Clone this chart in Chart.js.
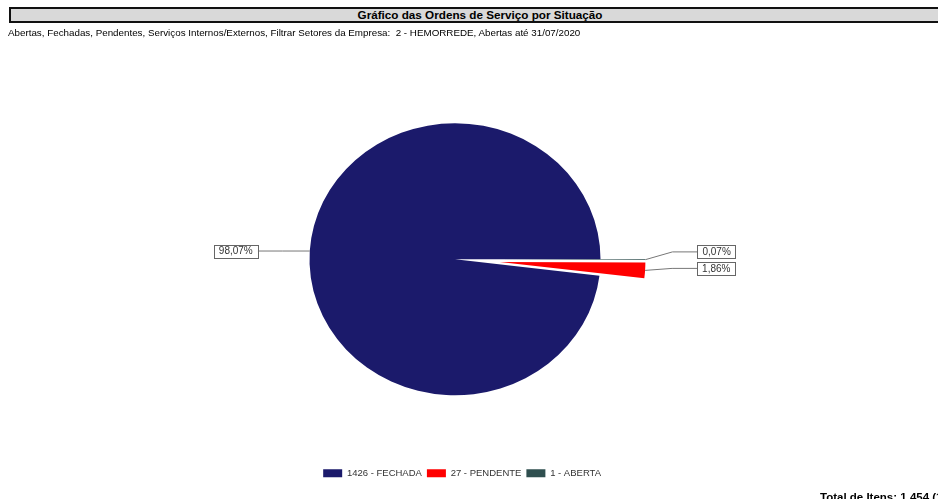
<!DOCTYPE html>
<html>
<head>
<meta charset="utf-8">
<script src="https://cdn.jsdelivr.net/npm/chart.js@4.4.0/dist/chart.umd.min.js"></script>
<style>
body { margin: 0; background: #fff; font-family: Arial, "Liberation Sans", sans-serif; overflow: hidden; }
#wrap { position: relative; width: 938px; height: 499px; overflow: hidden; }
#titleBar { position: absolute; left: 9px; top: 7px; width: 938px; height: 12px; border: 2px solid #111; background: #d9d9d9;
  font-weight: bold; font-size: 11.7px; line-height: 12px; text-align: center; color: #000; }
#sub { position: absolute; left: 8px; top: 27px; font-size: 9.8px; line-height: 12px; color: #000; white-space: nowrap; }
#total { position: absolute; left: 820px; top: 491px; font-weight: bold; font-size: 11.5px; line-height: 13px; color: #000; white-space: nowrap; }
canvas { position: absolute; left: 0; top: 0; }
</style>
</head>
<body>
<div id="wrap">
  <canvas id="pieChart" width="938" height="499"></canvas>
  <div id="titleBar">Gráfico das Ordens de Serviço por Situação</div>
  <div id="sub">Abertas, Fechadas, Pendentes, Serviços Internos/Externos, Filtrar Setores da Empresa:&nbsp; 2 - HEMORREDE, Abertas até 31/07/2020</div>
  <div id="total">Total de Itens: 1.454 (100%)</div>
</div>
<script>
// data
const categories = ['1426 - FECHADA', '27 - PENDENTE', '1 - ABERTA'];
const counts = [1426, 27, 1];

const FONT = 'Arial, "Liberation Sans", sans-serif';
const PIE_SX = 1.07;          // the report's pie is a bit wider than tall
const EXPLODE = [0, 42, 42];  // how far each slice is pulled out

// squash the pie into an ellipse, mirror it so slices run counter-clockwise,
// and pull the small slices out of the pie
const shapePlugin = {
    id: 'shape',
    beforeDatasetsDraw(chart) {
        const meta = chart.getDatasetMeta(0);
        const first = meta.data[0];
        const ctx = chart.ctx;
        ctx.save();
        ctx.translate(first.x, first.y);
        ctx.scale(PIE_SX, -1);
        ctx.translate(-first.x, -first.y);
        meta.data.forEach((arc, i) => {
            const mid = (arc.startAngle + arc.endAngle) / 2;
            ctx.save();
            ctx.translate(Math.cos(mid) * EXPLODE[i], Math.sin(mid) * EXPLODE[i]);
            arc.draw(ctx);
            ctx.restore();
        });
        ctx.restore();
        return false;
    }
};

// boxed percentage labels with leader lines
const labelPlugin = {
    id: 'sliceLabels',
    afterDraw(chart) {
        const ctx = chart.ctx;
        const meta = chart.getDatasetMeta(0);
        const total = counts.reduce((a, b) => a + b, 0);
        const items = meta.data.map((arc, i) => {
            const p = arc.getProps(['x', 'y', 'startAngle', 'endAngle', 'outerRadius']);
            const mid = (p.startAngle + p.endAngle) / 2;
            const r = p.outerRadius + EXPLODE[i];
            const ax = p.x + Math.cos(mid) * r * PIE_SX;
            const ay = p.y - Math.sin(mid) * r;
            return {
                ax, ay, y: ay,
                right: ax >= p.x,
                text: (counts[i] / total * 100).toFixed(2).replace('.', ',') + '%'
            };
        });

        // keep right-side labels from overlapping, bottom one stays put
        const rightSide = items.filter(it => it.right).sort((a, b) => b.ay - a.ay);
        rightSide.forEach((it, k) => {
            it.y = k === 0 ? it.ay - 2 : Math.min(it.ay, rightSide[k - 1].y - 16.5);
        });

        ctx.save();
        ctx.font = '10px ' + FONT;
        ctx.textBaseline = 'middle';
        items.forEach(it => {
            const w = ctx.measureText(it.text).width + 10;
            const h = 13;
            const edge = it.right ? it.ax + 52 : it.ax - 52;
            const elbow = it.right ? edge - 25 : edge + 25;
            ctx.strokeStyle = '#777';
            ctx.lineWidth = 1;
            ctx.beginPath();
            ctx.moveTo(it.ax, it.ay);
            ctx.lineTo(elbow, it.y);
            ctx.lineTo(edge, it.y);
            ctx.stroke();

            const bx = it.right ? edge : edge - w;
            ctx.fillStyle = '#fff';
            ctx.fillRect(bx, it.y - h / 2, w, h);
            ctx.strokeStyle = '#666';
            ctx.strokeRect(Math.round(bx) + 0.5, Math.round(it.y - h / 2) + 0.5, Math.round(w), h);
            ctx.fillStyle = '#333';
            ctx.fillText(it.text, bx + 5, it.y + 0.5);
        });
        ctx.restore();
    }
};

new Chart(document.getElementById('pieChart').getContext('2d'), {
    type: 'pie',
    data: {
        labels: categories,
        datasets: [{
            data: counts,
            backgroundColor: ['#1b1a6b', '#ff0000', '#2f4f4f'],
            borderWidth: 0,
            rotation: 90,
            radius: 136
        }]
    },
    options: {
        responsive: false,
        animation: false,
        events: [],
        layout: { padding: { left: 304, right: 332, top: 55, bottom: 11 } },
        plugins: {
            legend: {
                position: 'bottom',
                align: 'end',
                labels: {
                    boxWidth: 19,
                    boxHeight: 8,
                    padding: 5,
                    color: '#333',
                    font: { size: 9.5, family: FONT }
                }
            },
            tooltip: { enabled: false }
        }
    },
    plugins: [shapePlugin, labelPlugin]
});
</script>
</body>
</html>
